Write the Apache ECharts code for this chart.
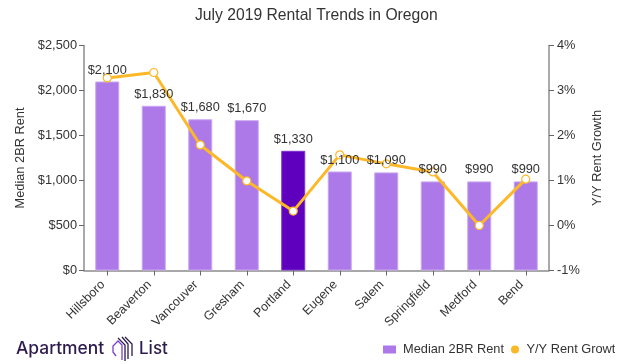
<!DOCTYPE html>
<html><head><meta charset="utf-8">
<style>html,body{margin:0;padding:0;background:#fff}#c{width:623px;height:364px}</style>
<script src="https://cdn.jsdelivr.net/npm/echarts@6/dist/echarts.min.js"></script>
</head><body><div id="c"></div>
<script>
const titleText = 'July 2019 Rental Trends in Oregon';
const categories = ['Hillsboro','Beaverton','Vancouver','Gresham','Portland','Eugene','Salem','Springfield','Medford','Bend'];
const rent = [2100,1830,1680,1670,1330,1100,1090,990,990,990];
const growth = [3.28,3.4,1.79,0.99,0.32,1.57,1.37,1.19,0,1.03];
const highlight = 'Portland';
const FONT = '"Liberation Sans", Arial, sans-serif';
const LOGO = 'Inter, Lato, sans-serif';
const TXT = '#333333';
const INK = '#2D1B4E';
const chart = echarts.init(document.getElementById('c'), null, {renderer:'canvas'});
const axisLine = {show:true, lineStyle:{color:'#8c8c8c', width:1.5}};
const axisTick = {show:true, length:5, lineStyle:{color:'#666666', width:1}};
const label = {fontFamily:FONT, fontSize:12.8, color:TXT};
const legendBase = {top:343, padding:0, itemWidth:13, itemHeight:8, textStyle:{fontFamily:FONT, fontSize:12.8, color:TXT}};
const money = v => '$' + v.toLocaleString('en-US');
chart.setOption({
  animation:false,
  backgroundColor:'#fff',
  title:{text:titleText, left:190, top:3, textStyle:{fontFamily:FONT, fontWeight:'normal', fontSize:15.7, color:TXT}},
  grid:{left:84, right:74, top:45.5, bottom:93.5},
  legend:[
    {...legendBase, left:383, data:[{name:'Median 2BR Rent', icon:'rect', itemStyle:{color:'#AD78E8', borderWidth:0}, textStyle:{padding:[0,0,0,2]}}]},
    {...legendBase, left:511, data:[{name:'Y/Y Rent Growth', icon:'circle', itemStyle:{color:'#FDB827', borderWidth:0}}]}
  ],
  xAxis:{type:'category', data:categories, axisLine, axisTick:{...axisTick, alignWithLabel:true},
    axisLabel:{...label, fontSize:12.5, rotate:45, interval:0, margin:8, padding:[0,6,0,0]}},
  yAxis:[
    {type:'value', min:0, max:2500, interval:500, name:'Median 2BR Rent', nameLocation:'middle', nameGap:45, nameRotate:90,
     nameTextStyle:label, axisLine, axisTick, splitLine:{show:false},
     axisLabel:{...label, margin:7, formatter:money}},
    {type:'value', min:-1, max:4, interval:1, name:'Y/Y Rent Growth', nameLocation:'middle', nameGap:40, nameRotate:90,
     nameTextStyle:label, axisLine, axisTick, splitLine:{show:false},
     axisLabel:{...label, margin:8, formatter:'{value}%'}}
  ],
  series:[
    {name:'Median 2BR Rent', type:'bar', yAxisIndex:0, barWidth:24, z:2,
     itemStyle:{color:'#AD78E8', borderColor:'#C9A6F0', borderWidth:1},
     data:rent.map((v,i)=>categories[i]===highlight?{value:v,itemStyle:{color:'#5F00BF',borderColor:'#7D33CC'}}:v)},
    {name:'Y/Y Rent Growth', type:'line', yAxisIndex:1, data:growth, z:3, symbol:'circle', symbolSize:8, showAllSymbol:true,
     lineStyle:{color:'#FDB827', width:3},
     itemStyle:{color:'#fff', borderColor:'#FDB827', borderWidth:1.2},
     emphasis:{disabled:true}},
    {name:'Rent labels', type:'bar', yAxisIndex:0, barWidth:24, barGap:'-100%', z:5, silent:true,
     itemStyle:{color:'transparent'}, data:rent,
     label:{...label, show:true, position:'top', distance:5, formatter:p=>money(p.value)}}
  ],
  graphic:[
    {type:'rect', left:615, top:335, shape:{width:10,height:25}, style:{fill:'#fff'}, z:100},
    {type:'text', left:16, top:340, style:{text:'Apartment', fontFamily:LOGO, fontWeight:500, fontSize:17.4, fill:INK}, z:100},
    {type:'text', left:139, top:340, style:{text:'List', fontFamily:LOGO, fontWeight:500, fontSize:17, fill:INK}, z:100},
    {type:'polyline', shape:{points:[[116,356],[113,352],[113,346],[118,341],[122,345],[122,360]]}, style:{stroke:'#7B3FD0', fill:null, lineWidth:1.3}, z:100},
    {type:'polyline', shape:{points:[[118,338],[125,345],[125,361]]}, style:{stroke:INK, fill:null, lineWidth:1.3}, z:100},
    {type:'polyline', shape:{points:[[122,337],[128,344],[128,359]]}, style:{stroke:INK, fill:null, lineWidth:1.3}, z:100},
    {type:'polyline', shape:{points:[[125,337],[132,344],[132,356]]}, style:{stroke:INK, fill:null, lineWidth:1.3}, z:100}
  ]
});
</script></body></html>
